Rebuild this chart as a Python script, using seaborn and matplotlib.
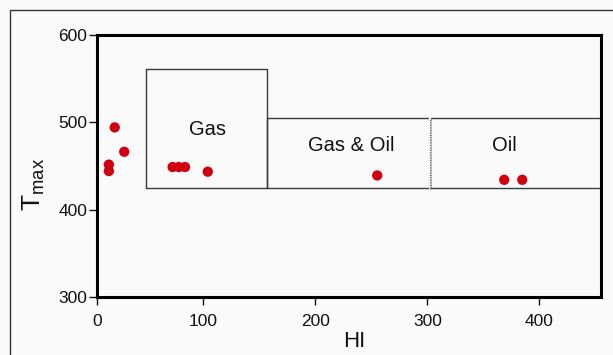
import matplotlib
matplotlib.use('Agg')
import matplotlib.pyplot as plt
from matplotlib.patches import Rectangle
import seaborn as sns
import pandas as pd

# Samples: hydrogen index vs Tmax
hi_values = [20.8, 29.3, 15.6, 15.6, 72.5, 78.1, 83.6, 103.9, 255.2, 368.6, 384.7]
tmax_values = [494.2, 466.3, 451.6, 444.2, 448.8, 448.8, 448.8, 443.5, 439.2, 434.2, 434.2]

# Kerogen zones (HI range, Tmax range)
zone_names = ['Gas', 'Gas & Oil', 'Oil']
zone_hi = [(48.8, 157), (157, 302), (302, 455)]
zone_tmax = [(425, 561), (425, 504.5), (425, 504.5)]
zone_label_hi = [104, 232, 369]
zone_label_tmax = [492, 473, 473]

hi_ticks = [0, 100, 200, 300, 400]
tmax_ticks = [300, 400, 500, 600]

df = pd.DataFrame({'HI': hi_values, 'Tmax': tmax_values})

sns.set_style('white')
plt.rcParams['font.family'] = ['Liberation Sans', 'DejaVu Sans']
plt.rcParams['mathtext.fontset'] = 'custom'
plt.rcParams['mathtext.rm'] = 'Liberation Sans'
plt.rcParams['mathtext.it'] = 'Liberation Sans'

bg = '#fafafa'
fig = plt.figure(figsize=(6.13, 3.55), dpi=100, facecolor=bg)
ax = fig.add_axes([97 / 613, 58 / 355, 504 / 613, 262 / 355])
ax.set_facecolor(bg)

# outer frame of the original figure (only left and top edges visible)
fig.patches.append(Rectangle((10 / 613, -0.5), 2.0, 1.5 - 10 / 355,
                             transform=fig.transFigure, fill=False,
                             edgecolor='#333333', linewidth=1.0))

xmin, xmax = 5, 455
ax.set_xlim(xmin, xmax)
ax.set_ylim(300, 600)

# zone boxes
for (x0, x1), (y0, y1) in zip(zone_hi, zone_tmax):
    ax.plot([x0, x0, x1, x1, x0], [y0, y1, y1, y0, y0], color='#3a3a3a',
            linewidth=1.0, zorder=1)
# dotted divider between gas & oil and oil
ax.plot([zone_hi[2][0], zone_hi[2][0]], list(zone_tmax[2]), color='white',
        linewidth=1.6, zorder=1.5)
ax.plot([zone_hi[2][0], zone_hi[2][0]], list(zone_tmax[2]), color='#555555',
        linewidth=0.9, linestyle=(0, (1, 1)), zorder=2)

for name, lx, ly in zip(zone_names, zone_label_hi, zone_label_tmax):
    ax.text(lx, ly, name, ha='center', va='center', fontsize=14.5, color='#111111')

sns.scatterplot(data=df, x='HI', y='Tmax', ax=ax, color='#d10010', s=55,
                edgecolor='none', zorder=3)

tick_pos = [xmin] + hi_ticks[1:]
ax.set_xticks(tick_pos)
ax.set_xticklabels([str(t) for t in hi_ticks])
ax.xaxis.get_major_ticks()[0].tick1line.set_visible(False)
ax.set_yticks(tmax_ticks)
ax.tick_params(axis='both', labelsize=12.5, colors='#111111', direction='out',
               width=1.0)
ax.tick_params(axis='x', length=6, pad=6, bottom=True)
ax.tick_params(axis='y', length=6, pad=1, left=True)

for sp in ax.spines.values():
    sp.set_visible(True)
    sp.set_color('black')
    sp.set_linewidth(2.2)

ax.set_xlabel('HI', fontsize=16, color='#111111')
ax.xaxis.set_label_coords(0.51, -0.13)
ax.set_ylabel(r'$\mathregular{T_{max}}$', fontsize=19, color='#111111')
ax.yaxis.set_label_coords(-0.10, 0.43)

fig.savefig('out.png', dpi=100, facecolor=bg)
